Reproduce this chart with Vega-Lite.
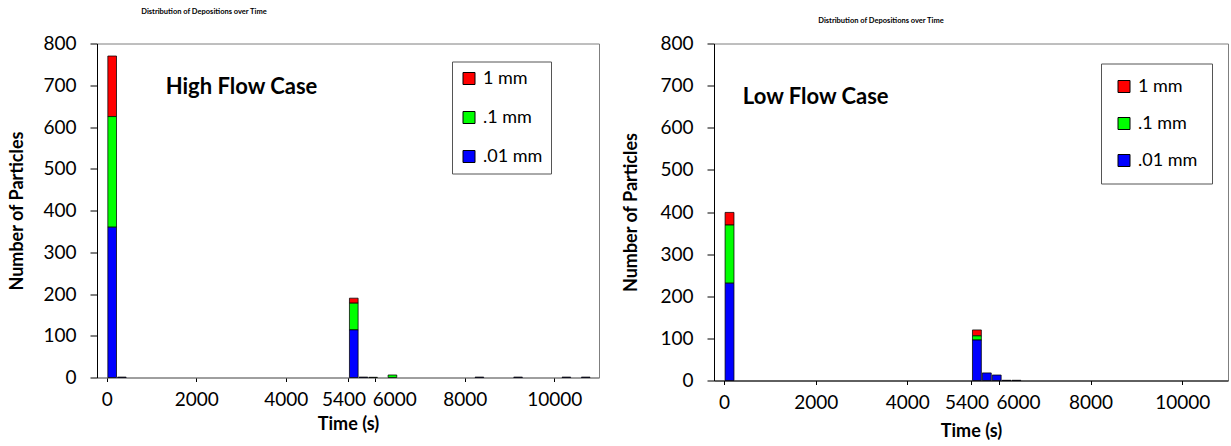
{
  "$schema": "https://vega.github.io/schema/vega-lite/v6.json",
  "padding": {"left": 8, "top": 6.5, "right": 2, "bottom": 2},
  "bounds": "flush",
  "spacing": 115,
  "background": "white",
  "config": {
    "font": "Lato",
    "view": {"stroke": "#7f7f7f", "strokeWidth": 1},
    "axis": {"labelFont": "Lato", "labelFontSize": 19, "labelColor": "black", "titleFont": "Lato", "titleFontSize": 18, "titleFontWeight": "bold", "titleColor": "black", "grid": false, "domainColor": "black", "tickColor": "black", "labelFlush": false, "labelOverlap": false},
    "legend": {"labelFont": "Lato", "labelFontSize": 18, "labelColor": "black"},
    "title": {"font": "Lato", "fontSize": 7.5, "fontWeight": "bold", "color": "black"}
  },
  "datasets": {
    "high": [
      {"t0": 0, "t1": 216, "size": "1 mm", "count": 145},
      {"t0": 0, "t1": 216, "size": ".1 mm", "count": 265},
      {"t0": 0, "t1": 216, "size": ".01 mm", "count": 360},
      {"t0": 216, "t1": 432, "size": ".01 mm", "count": 1},
      {"t0": 5400, "t1": 5616, "size": "1 mm", "count": 12},
      {"t0": 5400, "t1": 5616, "size": ".1 mm", "count": 64},
      {"t0": 5400, "t1": 5616, "size": ".01 mm", "count": 114},
      {"t0": 5616, "t1": 5832, "size": ".01 mm", "count": 1},
      {"t0": 5832, "t1": 6048, "size": ".1 mm", "count": 0.5},
      {"t0": 6264, "t1": 6480, "size": ".1 mm", "count": 6},
      {"t0": 8208, "t1": 8424, "size": ".01 mm", "count": 1},
      {"t0": 9072, "t1": 9288, "size": ".01 mm", "count": 1},
      {"t0": 10152, "t1": 10368, "size": ".01 mm", "count": 1},
      {"t0": 10584, "t1": 10800, "size": ".01 mm", "count": 1}
    ],
    "low": [
      {"t0": 0, "t1": 216, "size": "1 mm", "count": 30},
      {"t0": 0, "t1": 216, "size": ".1 mm", "count": 138},
      {"t0": 0, "t1": 216, "size": ".01 mm", "count": 231},
      {"t0": 5400, "t1": 5616, "size": "1 mm", "count": 14},
      {"t0": 5400, "t1": 5616, "size": ".1 mm", "count": 10},
      {"t0": 5400, "t1": 5616, "size": ".01 mm", "count": 96},
      {"t0": 5616, "t1": 5832, "size": ".01 mm", "count": 18},
      {"t0": 5832, "t1": 6048, "size": ".01 mm", "count": 13},
      {"t0": 6048, "t1": 6264, "size": ".01 mm", "count": 0.5},
      {"t0": 6264, "t1": 6480, "size": ".01 mm", "count": 0.5}
    ],
    "labels": [
      {"panel": "high", "t": 3010, "n": 697, "text": "High Flow Case"},
      {"panel": "low", "t": 2000, "n": 672, "text": "Low Flow Case"}
    ]
  },
  "resolve": {"legend": {"color": "independent"}},
  "hconcat": [
    {
      "width": 502,
      "height": 334,
      "title": {"text": "Distribution of Depositions over Time", "anchor": "middle", "frame": "group", "dx": -144, "offset": 19.5},
      "layer": [
        {
          "data": {"name": "high"},
          "mark": {"type": "bar", "stroke": "black", "strokeWidth": 0.75},
          "encoding": {
            "x": {"field": "t0", "type": "quantitative", "bin": {"binned": true, "step": 216}, "scale": {"domain": [-220, 11000], "nice": false, "zero": false},
              "axis": {"values": [0, 2000, 4000, 5400, 6000, 8000, 10000], "format": "d", "title": "Time (s)", "tickSize": 4, "labelPadding": 9, "titlePadding": 6, "domainColor": "#7f7f7f",
                "labelOffset": {"condition": [{"test": "datum.value === 5400", "value": -5}, {"test": "datum.value === 6000", "value": 19}], "value": 0}}},
            "x2": {"field": "t1"},
            "y": {"field": "count", "type": "quantitative", "stack": "zero", "scale": {"domain": [0, 800], "nice": false},
              "axis": {"values": [0, 100, 200, 300, 400, 500, 600, 700, 800], "title": "Number of Particles", "tickSize": 7, "labelPadding": 14, "titlePadding": 16}},
            "order": {"field": "size", "type": "nominal", "sort": "ascending"},
            "color": {"field": "size", "type": "nominal",
              "scale": {"domain": ["1 mm", ".1 mm", ".01 mm"], "range": ["#ff0000", "#00ff00", "#0000ff"]},
              "legend": {"orient": "none", "legendX": 355, "legendY": 18, "title": null, "symbolType": "square", "symbolSize": 144, "symbolStrokeColor": "black", "symbolStrokeWidth": 1, "symbolOpacity": 1, "rowPadding": 21, "padding": 8, "labelOffset": 5, "strokeColor": "#555555", "fillColor": "white"}}
          }
        },
        {
          "data": {"name": "labels"},
          "transform": [{"filter": "datum.panel === 'high'"}],
          "mark": {"type": "text", "font": "Lato", "fontSize": 22, "fontWeight": "bold", "align": "center", "baseline": "middle", "color": "black"},
          "encoding": {
            "x": {"field": "t", "type": "quantitative"},
            "y": {"field": "n", "type": "quantitative"},
            "text": {"field": "text"}
          }
        }
      ]
    },
    {
      "width": 514,
      "height": 337,
      "title": {"text": "Distribution of Depositions over Time", "anchor": "middle", "frame": "group", "dx": -90, "offset": 10},
      "layer": [
        {
          "data": {"name": "low"},
          "mark": {"type": "bar", "stroke": "black", "strokeWidth": 0.75},
          "encoding": {
            "x": {"field": "t0", "type": "quantitative", "bin": {"binned": true, "step": 216}, "scale": {"domain": [-220, 11000], "nice": false, "zero": false},
              "axis": {"values": [0, 2000, 4000, 5400, 6000, 8000, 10000], "format": "d", "title": "Time (s)", "tickSize": 4, "labelPadding": 9, "titlePadding": 10,
                "labelOffset": {"condition": [{"test": "datum.value === 5400", "value": -5}, {"test": "datum.value === 6000", "value": 19}], "value": 0}}},
            "x2": {"field": "t1"},
            "y": {"field": "count", "type": "quantitative", "stack": "zero", "scale": {"domain": [0, 800], "nice": false},
              "axis": {"values": [0, 100, 200, 300, 400, 500, 600, 700, 800], "title": "Number of Particles", "tickSize": 7, "labelPadding": 14, "titlePadding": 19}},
            "order": {"field": "size", "type": "nominal", "sort": "ascending"},
            "color": {"field": "size", "type": "nominal",
              "scale": {"domain": ["1 mm", ".1 mm", ".01 mm"], "range": ["#ff0000", "#00ff00", "#0000ff"]},
              "legend": {"orient": "none", "legendX": 387, "legendY": 20, "title": null, "symbolType": "square", "symbolSize": 144, "symbolStrokeColor": "black", "symbolStrokeWidth": 1, "symbolOpacity": 1, "rowPadding": 19, "padding": 14, "labelOffset": 5, "strokeColor": "#555555", "fillColor": "white"}}
          }
        },
        {
          "data": {"name": "labels"},
          "transform": [{"filter": "datum.panel === 'low'"}],
          "mark": {"type": "text", "font": "Lato", "fontSize": 22, "fontWeight": "bold", "align": "center", "baseline": "middle", "color": "black"},
          "encoding": {
            "x": {"field": "t", "type": "quantitative"},
            "y": {"field": "n", "type": "quantitative"},
            "text": {"field": "text"}
          }
        }
      ]
    }
  ]
}
